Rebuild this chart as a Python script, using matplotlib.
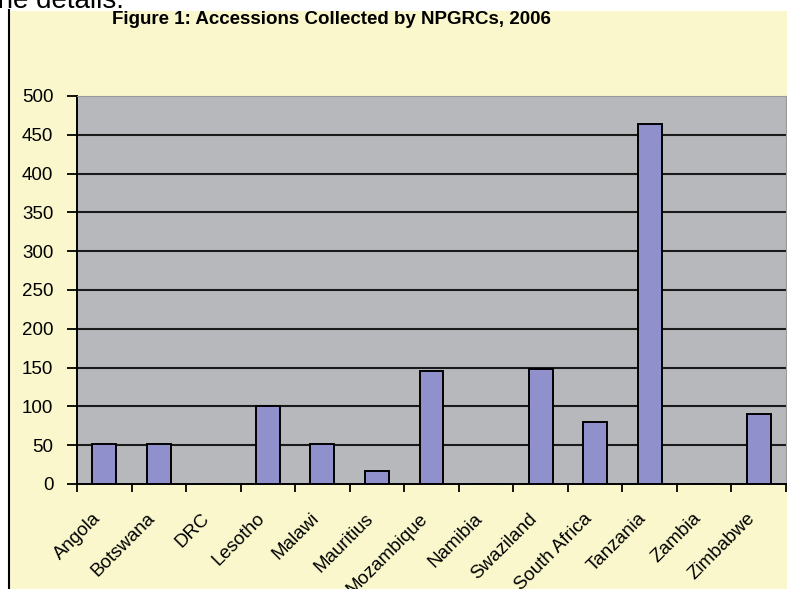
import matplotlib
matplotlib.use("Agg")
import matplotlib.pyplot as plt
import numpy as np
from matplotlib.patches import Rectangle
from matplotlib.lines import Line2D
from matplotlib.transforms import ScaledTranslation

countries = ['Angola', 'Botswana', 'DRC', 'Lesotho', 'Malawi', 'Mauritius',
             'Mozambique', 'Namibia', 'Swaziland', 'South Africa', 'Tanzania',
             'Zambia', 'Zimbabwe']
accessions = [52, 52, 0, 100, 52, 17, 145, 0, 148, 80, 464, 0, 90]
yticks = [0, 50, 100, 150, 200, 250, 300, 350, 400, 450, 500]

plt.rcParams['font.family'] = ['Liberation Sans', 'DejaVu Sans']

W, H = 787, 589
fig = plt.figure(figsize=(W / 100, H / 100), dpi=100)
fig.patch.set_facecolor('white')

# pale yellow chart frame with the page rule on its left
fig.patches.append(Rectangle((10 / W, 0), 1, 1 - 11 / H, transform=fig.transFigure,
                             facecolor='#F9F7CB', edgecolor='none', zorder=-2))
fig.lines.append(Line2D([9 / W, 9 / W], [0, 1 - 10 / H], transform=fig.transFigure,
                        color='black', lw=1.5, zorder=-1))
fig.text(124 / W, 1 - 8 / H, 'the details.', ha='right', va='baseline',
         fontsize=20, color='black')

ax = fig.add_axes([77 / W, 1 - 484 / H, 709 / W, 388 / H])
ax.set_facecolor('#B7B8BC')

x = np.arange(len(countries))
ax.bar(x, accessions, width=0.44, color='#8F90CC', edgecolor='black',
       linewidth=1.4, zorder=3)

ax.set_xlim(-0.5, len(countries) - 0.5)
ax.set_ylim(0, 500)
ax.set_yticks(yticks)
ax.set_yticklabels([str(v) for v in yticks], fontsize=13.5)
for v in yticks[1:-1]:
    ax.axhline(v, color='#1a1a1a', lw=1.5, zorder=1)

# ticks sit on category boundaries, labels at category centres
ax.set_xticks(np.arange(len(countries) + 1) - 0.5)
ax.set_xticklabels([])
ax.set_xticks(x, minor=True)
ax.set_xticklabels(countries, minor=True, rotation=45, ha='right', va='center',
                   rotation_mode='anchor', fontsize=13.5)
ax.tick_params(axis='x', which='minor', length=0, pad=23)
ax.tick_params(axis='x', which='major', direction='out', length=6, width=1.3)
ax.tick_params(axis='y', direction='out', length=7, width=1.3, pad=10)
for lab in ax.get_xticklabels(minor=True):
    lab.set_transform(lab.get_transform() + ScaledTranslation(-0.06, 0, fig.dpi_scale_trans))

for s in ('left', 'bottom'):
    ax.spines[s].set_color('black')
    ax.spines[s].set_linewidth(1.4)
ax.spines['top'].set_color('#9a9a9a')
ax.spines['top'].set_linewidth(0.8)
ax.spines['right'].set_color('#9a9a9a')
ax.spines['right'].set_linewidth(0.8)

fig.text(331 / W, 1 - 20 / H, 'Figure 1: Accessions Collected by NPGRCs, 2006',
         ha='center', va='center', fontsize=13.5, fontweight='bold')

fig.savefig('out.png', dpi=100)
